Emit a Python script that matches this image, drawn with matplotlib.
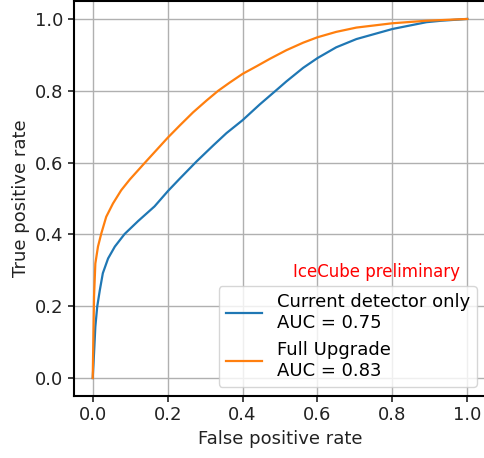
import matplotlib
matplotlib.use('Agg')
import matplotlib.pyplot as plt

# ROC curves
fpr_current = [0.0, 0.0035, 0.007, 0.012, 0.019, 0.027, 0.041, 0.059, 0.085, 0.121,
               0.165, 0.201, 0.233, 0.277, 0.322, 0.357, 0.40, 0.446, 0.495, 0.517,
               0.562, 0.60, 0.65, 0.704, 0.80, 0.891, 0.93, 1.0]
tpr_current = [0.0, 0.069, 0.143, 0.199, 0.245, 0.292, 0.333, 0.366, 0.401, 0.437,
               0.478, 0.521, 0.556, 0.603, 0.648, 0.682, 0.718, 0.762, 0.806, 0.826,
               0.864, 0.891, 0.921, 0.944, 0.972, 0.991, 0.995, 1.0]

fpr_upgrade = [0.0, 0.002, 0.0035, 0.007, 0.014, 0.023, 0.036, 0.054, 0.076, 0.099,
               0.137, 0.179, 0.20, 0.233, 0.268, 0.304, 0.335, 0.366, 0.40, 0.437,
               0.473, 0.517, 0.562, 0.60, 0.65, 0.704, 0.80, 0.891, 1.0]
tpr_upgrade = [0.0, 0.134, 0.227, 0.319, 0.366, 0.403, 0.449, 0.486, 0.523, 0.553,
               0.597, 0.645, 0.669, 0.704, 0.740, 0.773, 0.800, 0.823, 0.847, 0.868,
               0.889, 0.913, 0.934, 0.949, 0.964, 0.976, 0.988, 0.995, 1.0]

labels = ['Current detector only\nAUC = 0.75', 'Full Upgrade\nAUC = 0.83']

fig = plt.figure(figsize=(4.84, 4.58), dpi=100)
ax = fig.add_axes([74 / 484, 62 / 458, 412 / 484, 395 / 458])

ax.plot(fpr_current, tpr_current, color='#1f77b4', linewidth=1.6, label=labels[0])
ax.plot(fpr_upgrade, tpr_upgrade, color='#ff7f0e', linewidth=1.6, label=labels[1])

ax.set_xlim(-0.05, 1.05)
ax.set_ylim(-0.05, 1.05)
ax.set_xticks([0.0, 0.2, 0.4, 0.6, 0.8, 1.0])
ax.set_yticks([0.0, 0.2, 0.4, 0.6, 0.8, 1.0])
ax.grid(True, color='#b0b0b0', linewidth=1.0)
for s in ax.spines.values():
    s.set_linewidth(1.5)
    s.set_color('black')
ax.tick_params(axis='both', labelsize=13, width=1.2, length=4, colors='#222222')

ax.set_xlabel('False positive rate', fontsize=13, color='#222222')
ax.set_ylabel('True positive rate', fontsize=13, color='#222222')

ax.text(0.534, 0.295, 'IceCube preliminary', color='red', fontsize=12,
        ha='left', va='center')
ax.legend(loc='lower right', fontsize=13)

fig.savefig('out.png', dpi=100)
